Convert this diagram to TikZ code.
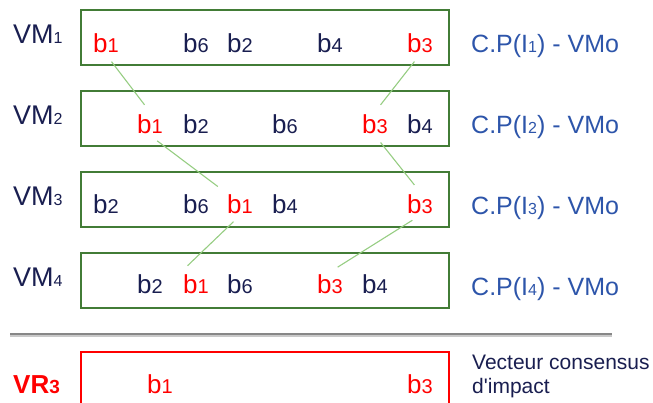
\documentclass[tikz,border=0pt]{standalone}
\usepackage{fontspec}
\setmainfont{Liberation Sans}
\definecolor{vmgreen}{RGB}{66,124,54}
\definecolor{linkgreen}{RGB}{150,205,130}
\definecolor{bnavy}{RGB}{25,30,80}
\definecolor{cpblue}{RGB}{45,85,170}
\definecolor{sepgray}{RGB}{135,135,135}
\newcommand\lowidx[2]{{\fontsize{#1}{#1}\selectfont#2}}
\newcommand\bnum[1]{b\lowidx{20}{#1}}

\begin{document}
\begin{tikzpicture}[x=1pt,y=-1pt,
    blab/.style={anchor=base west,inner sep=2pt,text=bnavy,font=\fontsize{26}{26}\selectfont},
    hit/.style={blab,text=red},
    link/.style={linkgreen,line width=1.1pt,shorten <=9pt,shorten >=9pt}]
        \useasboundingbox (0,0) rectangle (653,402);
        % cadres des vecteurs VM
        \foreach \i/\t in {1/10,2/91,3/172,4/253}{
          \draw[vmgreen,line width=2.8pt] (81,\t) rectangle (449,\t+55);
          \node[anchor=base west,inner sep=2pt,text=bnavy,font=\fontsize{27}{27}\selectfont] (vm\i) at (11,\t+33) {VM\lowidx{16}{\i}};
          \node[anchor=base west,inner sep=2pt,text=cpblue,font=\fontsize{25}{25}\selectfont] (cp\i) at (469,\t+42) {C.P(I\lowidx{16}{\i}) - VMo};
        }
        \foreach \x/\k/\s in {94/1/hit,184/6/blab,228/2/blab,318/4/blab,408/3/hit}
          \node[\s] (r1b\k) at (\x-3,52) {\bnum{\k}};
        \foreach \x/\k/\s in {138/1/hit,184/2/blab,273/6/blab,363/3/hit,408/4/blab}
          \node[\s] (r2b\k) at (\x-3,133) {\bnum{\k}};
        \foreach \x/\k/\s in {94/2/blab,184/6/blab,228/1/hit,273/4/blab,408/3/hit}
          \node[\s] (r3b\k) at (\x-3,213) {\bnum{\k}};
        \foreach \x/\k/\s in {138/2/blab,184/1/hit,228/6/blab,318/3/hit,363/4/blab}
          \node[\s] (r4b\k) at (\x-3,293) {\bnum{\k}};
        % suivi de b1 et b3
        \draw[link] (r1b1.south) -- (r2b1.north);
        \draw[link] (r1b3.south) -- (r2b3.north);
        \draw[link] (r2b1.south) -- (r3b1.north west);
        \draw[link] (r2b3.south) -- (r3b3.north);
        \draw[link] (r3b1.south) -- (r4b1.north west);
        \draw[link] (r3b3.south) -- (r4b3.north);
        % separation
        \draw[sepgray!45,line width=2pt] (10,335.5) -- (612,335.5);
        \draw[sepgray,line width=2pt] (10,333.5) -- (612,333.5);
        % vecteur resultat
        \draw[red,line width=2.4pt] (81,415) |- (449,352) -- (449,415);
        \node[anchor=base west,inner sep=2pt,text=red,font=\bfseries\fontsize{26}{26}\selectfont] (vr3) at (11,393) {VR\lowidx{19}{3}};
        \node[hit] (r5b1) at (145,393) {\bnum{1}};
        \node[hit] (r5b3) at (405,393) {\bnum{3}};
        \node[anchor=base west,inner sep=2pt,text=bnavy,font=\fontsize{21}{21}\selectfont] (vc1) at (470,369) {Vecteur consensus};
        \node[anchor=base west,inner sep=2pt,text=bnavy,font=\fontsize{21}{21}\selectfont] (vc2) at (470,393) {d\textquotesingle impact};
      \end{tikzpicture}
\end{document}
